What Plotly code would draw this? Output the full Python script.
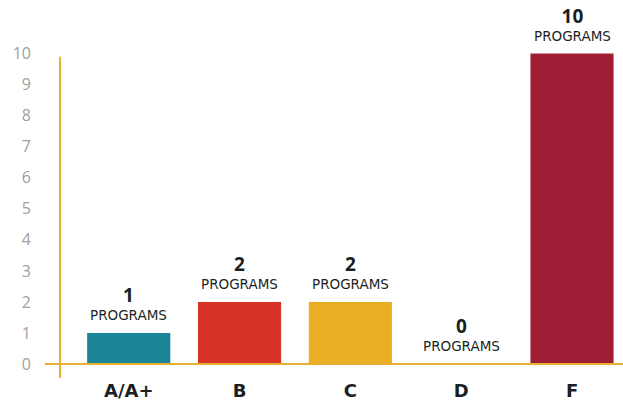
import plotly.graph_objects as go

categories = ["A/A+", "B", "C", "D", "F"]
counts = [1, 2, 2, 0, 10]
colors = ["#1b8396", "#d93327", "#e8ae24", "#e8ae24", "#a01e35"]
y_ticks = list(range(0, 11))

fig = go.Figure()
fig.add_trace(go.Bar(
    x=categories,
    y=counts,
    marker=dict(color=colors, line=dict(width=0)),
    width=0.75,
    hoverinfo="skip",
))

for cat, val in zip(categories, counts):
    fig.add_annotation(
        x=cat, y=val, xref="x", yref="y",
        text=f"<span style='font-size:19px;font-family:Open Sans'><b>{val}</b></span><br>PROGRAMS",
        showarrow=False, yanchor="bottom", yshift=8,
        font=dict(family="DejaVu Sans", size=13.5, color="#1a1f24"),
    )

axis_color = "#e8b030"
fig.add_shape(type="line", xref="paper", yref="y", x0=0, x1=0, y0=-0.45, y1=9.9,
              line=dict(color=axis_color, width=2))
fig.add_shape(type="line", xref="paper", yref="y", x0=-0.027, x1=1, y0=0, y1=0,
              line=dict(color=axis_color, width=2))

fig.update_layout(
    width=623, height=403,
    margin=dict(l=60, r=0, t=35, b=25),
    paper_bgcolor="white", plot_bgcolor="white",
    showlegend=False,
    font=dict(family="Open Sans"),
    xaxis=dict(
        range=[-0.62, 4.46],
        showgrid=False, zeroline=False, showline=False,
        tickfont=dict(family="DejaVu Sans", size=18, color="#1a1f24", weight="bold"),
        ticks="",
    ),
    yaxis=dict(
        range=[-0.45, 10.6],
        tickvals=y_ticks,
        showgrid=False, zeroline=False, showline=False,
        tickfont=dict(family="Open Sans", size=16, color="#a0a0a0"),
        ticks="",
        ticklabelstandoff=28,
    ),
)

fig.write_html("out.html")
